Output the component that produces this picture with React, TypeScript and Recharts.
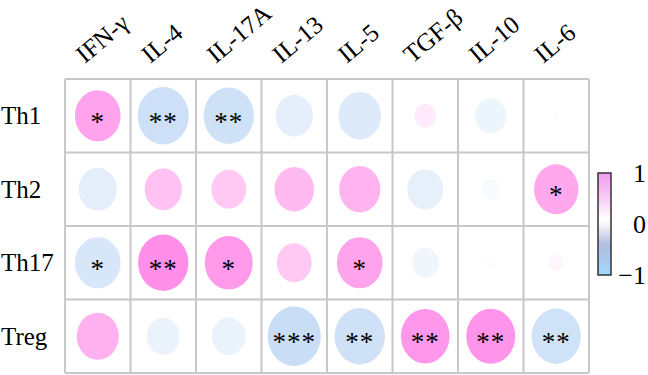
import React from 'react';
import { ScatterChart, Scatter, XAxis, YAxis, CartesianGrid, Customized } from 'recharts';

const cytokines = ['IFN-γ', 'IL-4', 'IL-17A', 'IL-13', 'IL-5', 'TGF-β', 'IL-10', 'IL-6'];
const cellTypes = ['Th1', 'Th2', 'Th17', 'Treg'];

// correlation coefficients per cell type, in cytokine order
const th1Values = [0.6, -0.75, -0.73, -0.4, -0.52, 0.13, -0.28, 0.02];
const th2Values = [-0.42, 0.4, 0.35, 0.45, 0.49, -0.37, -0.1, 0.57];
const th17Values = [-0.6, 0.73, 0.66, 0.35, 0.6, -0.21, 0.03, 0.06];
const tregValues = [0.51, -0.31, -0.32, -0.81, -0.73, 0.68, 0.69, -0.7];

// significance marks
const th1Sig = ['*', '**', '**', '', '', '', '', ''];
const th2Sig = ['', '', '', '', '', '', '', '*'];
const th17Sig = ['*', '**', '*', '', '*', '', '', ''];
const tregSig = ['', '', '', '***', '**', '**', '**', '**'];

const colorbarTicks = [1, 0, -1];

const allValues = [th1Values, th2Values, th17Values, tregValues];
const allSig = [th1Sig, th2Sig, th17Sig, tregSig];

const data = allValues.flatMap((row, ri) =>
  row.map((r, ci) => ({ x: ci + 0.5, y: ri + 0.5, r, sig: allSig[ri][ci] }))
);

const W = 648;
const H = 375;
const PLOT = { left: 65, right: 589, top: 79, bottom: 373 };
const CELL_W = (PLOT.right - PLOT.left) / cytokines.length;
const CELL_H = (PLOT.bottom - PLOT.top) / cellTypes.length;
const FONT = "Liberation Serif, DejaVu Serif, Times New Roman, serif";

const POS = [255, 102, 224];
const NEG = [188, 214, 244];

const colorFor = (r: number) => {
  const t = Math.min(1, Math.abs(r));
  const target = r >= 0 ? POS : NEG;
  const c = target.map((v) => Math.round(255 - t * (255 - v)));
  return `rgb(${c[0]},${c[1]},${c[2]})`;
};

const CellShape = (props: any) => {
  const { cx, cy, payload } = props;
  const s = Math.sqrt(Math.abs(payload.r)) * 0.9;
  return (
    <g>
      <ellipse cx={cx} cy={cy} rx={(s * CELL_W) / 2} ry={(s * CELL_H) / 2} fill={colorFor(payload.r)} />
      {payload.sig ? (
        <text x={cx} y={cy + 15} textAnchor="middle" fontFamily={FONT} fontSize={27} letterSpacing={1} fill="#000">
          {payload.sig}
        </text>
      ) : null}
    </g>
  );
};

const Nothing = () => <g />;

const XTick = (props: any) => {
  const { x, y, payload } = props;
  const label = cytokines[Math.floor(payload.value)];
  const ax = x - 13;
  const ay = y - 13;
  return (
    <text x={ax} y={ay} transform={`rotate(-40, ${ax}, ${ay})`} textAnchor="start" fontFamily={FONT} fontSize={25} fill="#000">
      {label}
    </text>
  );
};

const YTick = (props: any) => {
  const { y, payload } = props;
  const label = cellTypes[Math.floor(payload.value)];
  return (
    <text x={1} y={y} dominantBaseline="central" textAnchor="start" fontFamily={FONT} fontSize={25} fill="#000">
      {label}
    </text>
  );
};

const BAR = { x: 598, y: 173, w: 13, h: 102 };
const barY = (v: number) => BAR.y + ((1 - v) / 2) * BAR.h;

const Colorbar = () => (
  <g>
    <defs>
      <linearGradient id="cbar" x1="0" y1="0" x2="0" y2="1">
        <stop offset="0%" stopColor="#f29cf0" />
        <stop offset="25%" stopColor="#f8cdf6" />
        <stop offset="45%" stopColor="#ffffff" />
        <stop offset="52%" stopColor="#f2f2f6" />
        <stop offset="70%" stopColor="#b2bce0" />
        <stop offset="100%" stopColor="#a2d8f8" />
      </linearGradient>
    </defs>
    <rect x={BAR.x} y={BAR.y} width={BAR.w} height={BAR.h} fill="url(#cbar)" stroke="#333" strokeWidth={1.5} />
    {colorbarTicks.map((v) => (
      <text key={v} x={646} y={barY(v)} dominantBaseline="central" textAnchor="end" fontFamily={FONT} fontSize={26} fill="#000">
        {v < 0 ? `\u2212${Math.abs(v)}` : v}
      </text>
    ))}
  </g>
);

const gridTicksX = cytokines.map((_, i) => i).concat([cytokines.length]);
const gridTicksY = cellTypes.map((_, i) => i).concat([cellTypes.length]);
const labelTicksX = cytokines.map((_, i) => i + 0.5);
const labelTicksY = cellTypes.map((_, i) => i + 0.5);

export default function App() {
  return (
    <div style={{ position: 'absolute', left: 0, top: 0, width: W, height: H, background: '#fff' }}>
      <ScatterChart width={W} height={H} margin={{ top: 0, left: 0, right: W - PLOT.right, bottom: H - PLOT.bottom }}>
        <XAxis xAxisId="grid" type="number" dataKey="x" domain={[0, 8]} ticks={gridTicksX} hide />
        <YAxis yAxisId="grid" type="number" dataKey="y" domain={[0, 4]} ticks={gridTicksY} reversed hide />
        <XAxis
          xAxisId="lab"
          type="number"
          dataKey="x"
          orientation="top"
          domain={[0, 8]}
          ticks={labelTicksX}
          height={PLOT.top}
          axisLine={false}
          tickLine={false}
          tickSize={0}
          tick={<XTick />}
          interval={0}
        />
        <YAxis
          yAxisId="lab"
          type="number"
          dataKey="y"
          domain={[0, 4]}
          ticks={labelTicksY}
          reversed
          width={PLOT.left}
          axisLine={false}
          tickLine={false}
          tickSize={0}
          tick={<YTick />}
          interval={0}
        />
        <CartesianGrid xAxisId="grid" yAxisId="grid" stroke="#c8c8c8" strokeWidth={2} />
        <Scatter xAxisId="grid" yAxisId="grid" data={data} shape={<CellShape />} isAnimationActive={false} />
        <Scatter xAxisId="lab" yAxisId="lab" data={data} shape={<Nothing />} isAnimationActive={false} />
        <Customized component={<Colorbar />} />
      </ScatterChart>
    </div>
  );
}
